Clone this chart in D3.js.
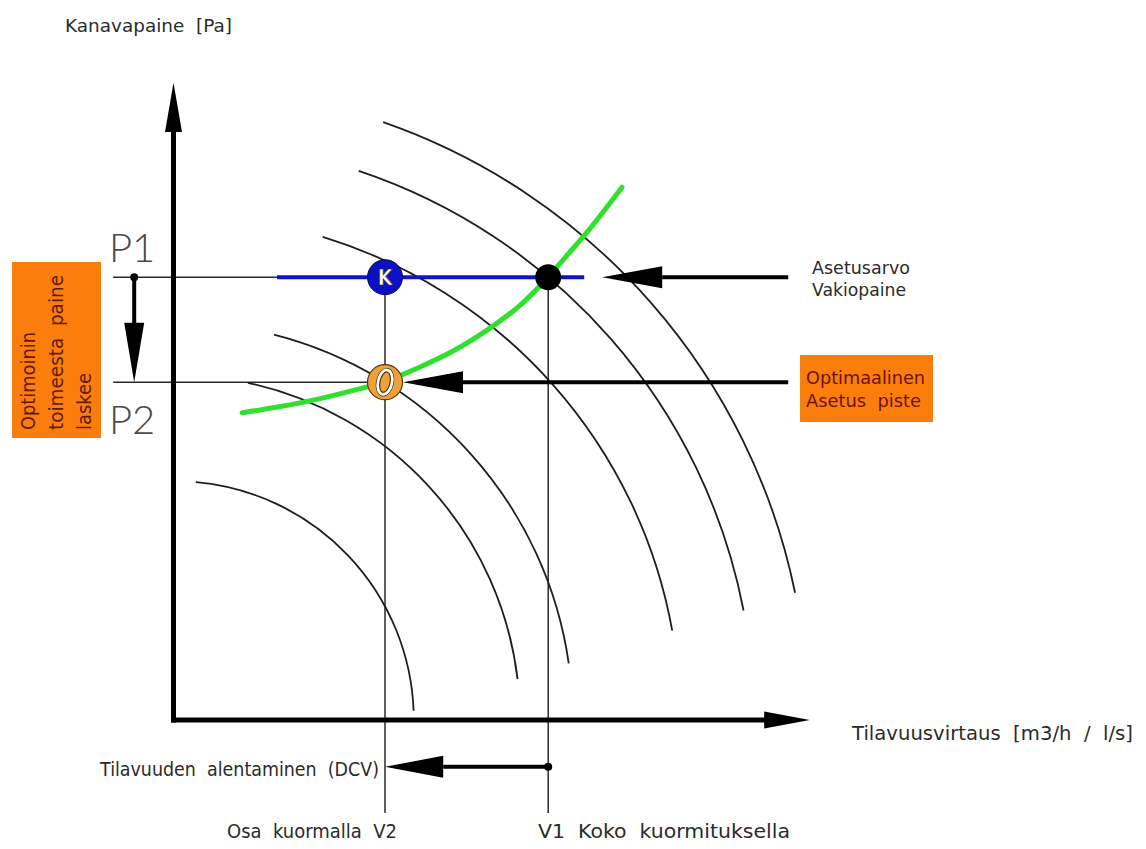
<!DOCTYPE html>
<html><head><meta charset="utf-8">
<script src="https://cdn.jsdelivr.net/npm/d3@7"></script>
<style>html,body{margin:0;padding:0;background:#fff;} text{font-family:"DejaVu Sans","Liberation Sans",sans-serif; white-space:pre;}</style>
</head><body><svg id="c" width="1146" height="849"></svg>
<script>
// ---------------- data ----------------
// fan curves: radius (data units) and angular span (degrees from flow axis)
const fanCurveRadius   = [39.8, 57.5, 66.3, 84.2, 96.5, 105.5];
const fanCurveStartDeg = [85.0, 77.8, 75.6, 73.0, 71.5, 70.8];
const fanCurveEndDeg   = [2.2, 6.8, 8.2, 10.2, 10.9, 11.6];
// system curve (green)
const systemCurveFlow     = [11.2, 17.5, 24.2, 30.8, 35.0, 40.8, 46.3, 52.5, 58.0, 62.2, 65.8, 69.2, 74.5];
const systemCurvePressure = [51.2, 52.2, 53.5, 55.2, 56.3, 58.8, 61.3, 65.2, 69.3, 73.8, 78.0, 81.8, 88.8];
// pressure levels and flow levels
const pressureLabels = ["P1", "P2"];
const pressureValues = [73.8, 56.3];
const flowLabels = ["Osa  kuormalla  V2", "V1  Koko  kuormituksella"];
const flowValues = [35.0, 62.2];
// constant pressure set-point line (blue)
const constantPressureFlowRange = [17.0, 68.2];
// axis titles and annotations
const yAxisTitle = "Kanavapaine  [Pa]";
const xAxisTitle = "Tilavuusvirtaus  [m3/h  /  l/s]";
const dcvLabel = "Tilavuuden  alentaminen  (DCV)";
const setpointLabel = ["Asetusarvo", "Vakiopaine"];
const optimalLabel = ["Optimaalinen", "Asetus  piste"];
const optimizationLabel = ["Optimoinin", "toimeesta  paine", "laskee"];
const markerLetters = ["K", "0"];

// ---------------- scales ----------------
const svg = d3.select("#c");
svg.append("rect").attr("width", 1146).attr("height", 849).attr("fill", "#fff");
const x = d3.scaleLinear().domain([0, 100]).range([175, 775]);
const y = d3.scaleLinear().domain([0, 100]).range([720, 120]);
const unit = x(1) - x(0);

const thin = "#2a2a2a";
const g = svg.append("g");

// reference lines (P1, P2 horizontals; V1, V2 verticals)
pressureValues.forEach((p, i) => {
  g.append("line").attr("x1", x(-10.3)).attr("x2", i === 0 ? x(flowValues[1]) : x(flowValues[0]))
    .attr("y1", y(p)).attr("y2", y(p)).attr("stroke", thin).attr("stroke-width", 1.5);
});
flowValues.forEach((v) => {
  g.append("line").attr("x1", x(v)).attr("x2", x(v))
    .attr("y1", y(pressureValues[0])).attr("y2", y(-15.5)).attr("stroke", thin).attr("stroke-width", 1.5);
});

// fan curves
fanCurveRadius.forEach((r, i) => {
  const p = d3.path();
  const a0 = -fanCurveStartDeg[i] * Math.PI / 180;
  const a1 = -fanCurveEndDeg[i] * Math.PI / 180;
  p.arc(x(0), y(0), r * unit, a0, a1, false);
  g.append("path").attr("d", p.toString()).attr("fill", "none")
    .attr("stroke", "#1e1e1e").attr("stroke-width", 1.8);
});

// system curve
const sysData = systemCurveFlow.map((f, i) => [f, systemCurvePressure[i]]);
g.append("path").datum(sysData)
  .attr("d", d3.line().x(d => x(d[0])).y(d => y(d[1])).curve(d3.curveBasis))
  .attr("fill", "none").attr("stroke", "#2fe02f").attr("stroke-width", 5).attr("stroke-linecap", "round");

// blue constant-pressure line
g.append("line").attr("x1", x(constantPressureFlowRange[0])).attr("x2", x(constantPressureFlowRange[1]))
  .attr("y1", y(pressureValues[0])).attr("y2", y(pressureValues[0]))
  .attr("stroke", "#1212c8").attr("stroke-width", 4);

// ---------------- axes ----------------
const axisW = 5;
g.append("line").attr("x1", x(0) - 1.5).attr("x2", x(0) - 1.5).attr("y1", y(0) + 2.5).attr("y2", y(98))
  .attr("stroke", "#000").attr("stroke-width", axisW);
g.append("path").attr("d", `M${x(0) - 10},${y(98)} L${x(0) + 7},${y(98)} L${x(0) - 1.5},${y(106.2)} Z`).attr("fill", "#000");
g.append("line").attr("x1", x(0) - 4).attr("x2", x(98.5)).attr("y1", y(0)).attr("y2", y(0))
  .attr("stroke", "#000").attr("stroke-width", axisW);
g.append("path").attr("d", `M${x(98.2)},${y(0) - 8.5} L${x(98.2)},${y(0) + 8.5} L${x(105.8)},${y(0)} Z`).attr("fill", "#000");

// ---------------- arrows ----------------
function hArrow(xTail, xTip, yv, baseX) {
  g.append("line").attr("x1", xTail).attr("x2", baseX).attr("y1", yv).attr("y2", yv)
    .attr("stroke", "#000").attr("stroke-width", 4);
  g.append("path").attr("d", `M${xTip},${yv} L${baseX},${yv - 11} L${baseX},${yv + 11} Z`).attr("fill", "#000");
}
hArrow(x(102.2), x(71.2), y(pressureValues[0]), x(81.2));
hArrow(x(102.2), x(38.0), y(pressureValues[1]), x(48.0));
const dcvY = y(-7.8);
hArrow(x(flowValues[1]), x(flowValues[0]), dcvY, x(44.7));
g.append("circle").attr("cx", x(flowValues[1])).attr("cy", dcvY).attr("r", 4).attr("fill", "#000");
const ax = x(-6.8);
g.append("line").attr("x1", ax).attr("x2", ax).attr("y1", y(pressureValues[0])).attr("y2", y(65))
  .attr("stroke", "#000").attr("stroke-width", 4);
g.append("path").attr("d", `M${ax - 10},${y(66.2)} L${ax + 10},${y(66.2)} L${ax},${y(pressureValues[1])} Z`).attr("fill", "#000");
g.append("circle").attr("cx", ax).attr("cy", y(pressureValues[0])).attr("r", 4).attr("fill", "#000");

// ---------------- markers ----------------
g.append("circle").attr("cx", x(flowValues[1])).attr("cy", y(pressureValues[0])).attr("r", 13).attr("fill", "#000");
const kx = x(flowValues[0]), ky = y(pressureValues[0]);
g.append("circle").attr("cx", kx).attr("cy", ky).attr("r", 17.5).attr("fill", "#0c12c4").attr("stroke", "#0a0a50").attr("stroke-width", 1);
g.append("text").attr("x", kx).attr("y", ky + 7.5).attr("text-anchor", "middle")
  .attr("font-size", 21).attr("font-weight", "bold").attr("fill", "#fff")
  .attr("stroke", "#223").attr("stroke-width", 0.6)
  .style("font-family", "'DejaVu Sans Condensed','DejaVu Sans',sans-serif").text(markerLetters[0]);
const ox = x(flowValues[0]), oy = y(pressureValues[1]);
g.append("circle").attr("cx", ox).attr("cy", oy).attr("r", 17.5).attr("fill", "#eea03c").attr("stroke", "#5a3a10").attr("stroke-width", 1.2);
const og = g.append("g").attr("transform", `translate(${ox},${oy}) rotate(12)`);
og.append("ellipse").attr("rx", 8.5).attr("ry", 14).attr("fill", "none").attr("stroke", "#3a2a10").attr("stroke-width", 1);
og.append("ellipse").attr("rx", 7).attr("ry", 12.5).attr("fill", "none").attr("stroke", "#fff").attr("stroke-width", 2.6);
og.append("ellipse").attr("rx", 5).attr("ry", 10.3).attr("fill", "#eea03c").attr("stroke", "#3a2a10").attr("stroke-width", 1);

// ---------------- texts ----------------
const txt = "#2b2b2b";
function label(parent, xx, yy, str, len, size, color, anchor) {
  return parent.append("text").attr("x", xx).attr("y", yy).attr("font-size", size).attr("fill", color)
    .attr("text-anchor", anchor || "start")
    .attr("textLength", len).attr("lengthAdjust", "spacingAndGlyphs").text(str);
}
label(svg, 65, 32, yAxisTitle, 167, 18, txt);
label(svg, 852, 740, xAxisTitle, 281, 19, txt);
label(svg, 379, 776, dcvLabel, 279, 19, txt, "end");
label(svg, 227, 838, flowLabels[0], 170, 19, txt);
label(svg, 538, 838, flowLabels[1], 252, 19, txt);
label(svg, 812, 274, setpointLabel[0], 98, 18, txt);
label(svg, 812, 296, setpointLabel[1], 94, 18, txt);

pressureLabels.forEach((t, i) => svg.append("text").attr("x", 109).attr("y", i === 0 ? 262 : 434)
  .attr("font-size", 40).attr("font-weight", 300).attr("fill", "#4a4a4a")
  .style("font-family", "Lato,'Liberation Sans',sans-serif").text(t));

const orange = "#fb7e0c";
svg.append("rect").attr("x", 800).attr("y", 355).attr("width", 133).attr("height", 67).attr("fill", orange);
label(svg, 806, 384, optimalLabel[0], 119, 18, "#6a1204");
label(svg, 806, 407, optimalLabel[1], 115, 18, "#6a1204");

svg.append("rect").attr("x", 12).attr("y", 262).attr("width", 89).attr("height", 176).attr("fill", orange);
const optLens = [98, 155, 57];
optimizationLabel.forEach((t, i) => {
  const gg = svg.append("g").attr("transform", `translate(${35 + i * 28},430) rotate(-90)`);
  label(gg, 0, 0, t, optLens[i], 19, "#5e1a06");
});
</script></body></html>
